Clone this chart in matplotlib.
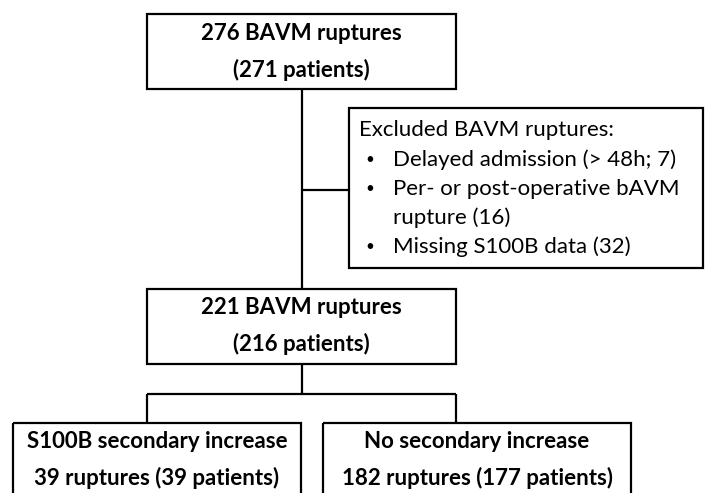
import matplotlib.pyplot as plt
from matplotlib.patches import Rectangle

plt.rcParams['font.family'] = ['Lato', 'DejaVu Sans']

# box texts
top_lines = ['276 BAVM ruptures', '(271 patients)']
mid_lines = ['221 BAVM ruptures', '(216 patients)']
left_lines = ['S100B secondary increase', '39 ruptures (39 patients)']
right_lines = ['No secondary increase', '182 ruptures (177 patients)']
excl_title = 'Excluded BAVM ruptures:'
excl_items = [['Delayed admission (> 48h; 7)'],
              ['Per- or post-operative bAVM', 'rupture (16)'],
              ['Missing S100B data (32)']]

fig = plt.figure(figsize=(7.05, 4.93), dpi=100)
ax = fig.add_axes([0, 0, 1, 1])
ax.set_xlim(0, 705)
ax.set_ylim(493, 0)
ax.axis('off')

lw = 1.6
fs = 16


def box(x0, y0, x1, y1):
    ax.add_patch(Rectangle((x0, y0), x1 - x0, y1 - y0, fill=False,
                           edgecolor='black', linewidth=lw, zorder=2))


def line(xs, ys):
    ax.plot(xs, ys, color='black', linewidth=lw, solid_capstyle='butt', zorder=1)


def two_lines(xc, y0, lines):
    ax.text(xc, y0, lines[0], ha='center', va='center', fontsize=fs, fontweight='bold')
    ax.text(xc, y0 + 37, lines[1], ha='center', va='center', fontsize=fs, fontweight='bold')


# top box
box(147, 14, 456, 89)
two_lines(301, 33, top_lines)

# vertical connector + side branch
line([302, 302], [89, 289])
line([302, 349], [190, 190])

# excluded box
box(349, 108, 703, 268)
ax.text(359, 130, excl_title, ha='left', va='center', fontsize=fs)
y = 160
for item in excl_items:
    ax.text(365, y, '\u2022', ha='left', va='center', fontsize=11)
    for part in item:
        ax.text(393, y, part, ha='left', va='center', fontsize=fs)
        y += 29

# middle box
box(147, 289, 456, 364)
two_lines(301, 307, mid_lines)

# split connector
line([302, 302], [364, 394])
line([147, 456], [394, 394])
line([147, 147], [394, 423])
line([456, 456], [394, 423])

# bottom boxes (run off the bottom edge)
box(13, 423, 301, 510)
box(323, 423, 631, 510)
two_lines(157, 441, left_lines)
two_lines(477, 441, right_lines)

fig.savefig('out.png', dpi=100)
